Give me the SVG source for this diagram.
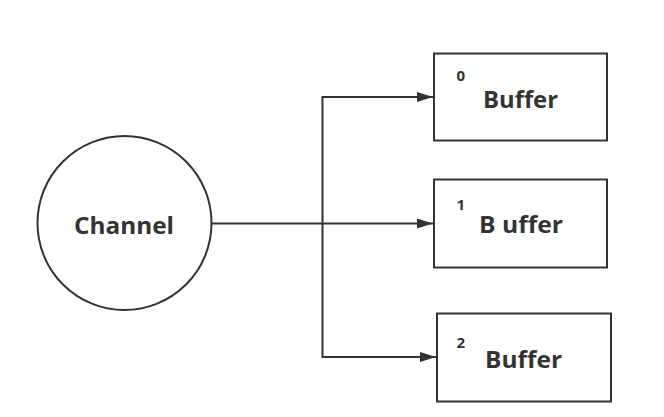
<svg xmlns="http://www.w3.org/2000/svg" width="664" height="417" viewBox="0 0 664 417">
<defs>
<marker id="arr" viewBox="0 0 16 10" refX="16" refY="5" markerWidth="16" markerHeight="10" markerUnits="userSpaceOnUse" orient="auto">
<path d="M0,0 L16,5 L0,10 Z" fill="#333"/>
</marker>
<style>
.shape{fill:#fff;stroke:#333;stroke-width:2}
.conn{fill:none;stroke:#333;stroke-width:2}
.lbl{font-family:"Open Sans","Liberation Sans",sans-serif;font-weight:bold;fill:#333}
.big{font-size:24px}
.sup{font-size:15px}
</style>
</defs>
<rect width="664" height="417" fill="#fff"/>
<g id="connectors">
<line class="conn" x1="211" y1="223.5" x2="433" y2="223.5" marker-end="url(#arr)"/>
<polyline class="conn" points="322.5,223.5 322.5,97 433,97" marker-end="url(#arr)"/>
<polyline class="conn" points="322.5,223.5 322.5,357 436,357" marker-end="url(#arr)"/>
</g>
<g id="channel">
<circle class="shape" cx="124.5" cy="223" r="87"/>
<text class="lbl big" x="124" y="234" text-anchor="middle" textLength="100" lengthAdjust="spacingAndGlyphs">Channel</text>
</g>
<g id="buffer0">
<rect class="shape" x="434" y="53.5" width="173" height="87"/>
<text class="lbl sup" x="456.5" y="81">0</text>
<text class="lbl big" x="483" y="108" textLength="75" lengthAdjust="spacingAndGlyphs">Buffer</text>
</g>
<g id="buffer1">
<rect class="shape" x="434" y="179.5" width="173" height="88"/>
<text class="lbl sup" x="456.5" y="210">1</text>
<text class="lbl big" x="479" y="233" textLength="84" lengthAdjust="spacingAndGlyphs">B uffer</text>
</g>
<g id="buffer2">
<rect class="shape" x="437" y="313.5" width="174" height="88"/>
<text class="lbl sup" x="456.5" y="348">2</text>
<text class="lbl big" x="485" y="368" textLength="77" lengthAdjust="spacingAndGlyphs">Buffer</text>
</g>
</svg>
